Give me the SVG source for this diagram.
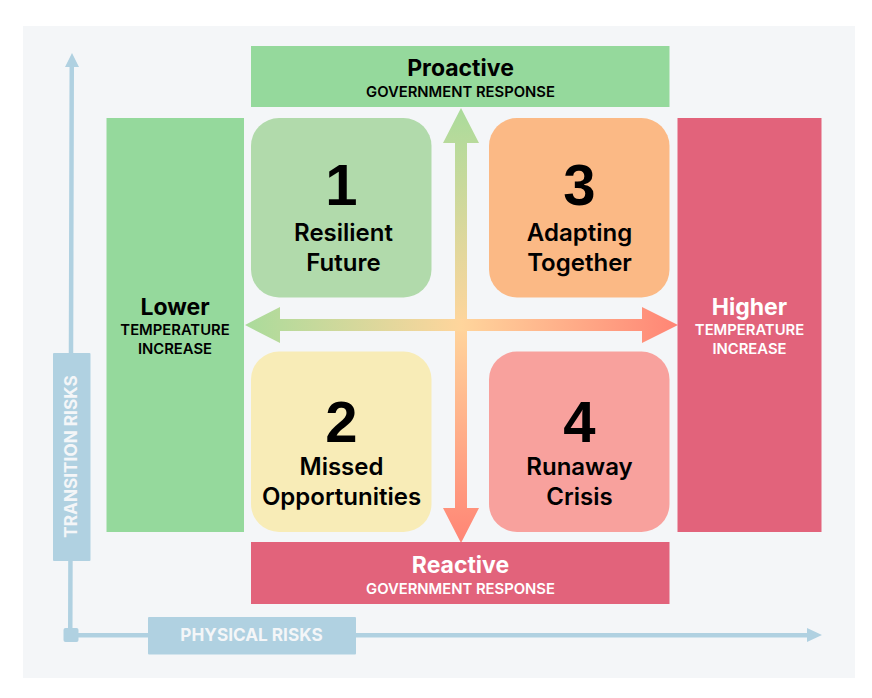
<svg xmlns="http://www.w3.org/2000/svg" width="872" height="698" viewBox="0 0 872 698">
<defs>
<style>
text{font-family:"Inter","Liberation Sans",sans-serif;text-anchor:middle;fill:#000}
.t{font-size:23px;font-weight:700}
.s{font-size:14.800px;font-weight:600}
.q{font-size:24px;font-weight:600}
.n{font-family:"Liberation Sans",Arial,sans-serif;font-size:58px;font-weight:700}
.w{fill:#fff}
.a{font-size:17.200px;font-weight:700;fill:#f4f6f8}
.g{fill:#95d99c}.r{fill:#e2637b}.b{fill:#b0d1e1}
</style>
<linearGradient id="hg" gradientUnits="userSpaceOnUse" x1="245" y1="0" x2="678" y2="0">
<stop offset="0" stop-color="#aadb9b"/><stop offset="0.5" stop-color="#ffd59c"/><stop offset="1" stop-color="#ff8575"/>
</linearGradient>
<linearGradient id="vg" gradientUnits="userSpaceOnUse" x1="0" y1="108" x2="0" y2="543">
<stop offset="0" stop-color="#aadb9b"/><stop offset="0.5" stop-color="#ffd59c"/><stop offset="1" stop-color="#ff8575"/>
</linearGradient>
</defs>
<rect x="23" y="26" width="832" height="652" fill="#f4f6f8"/>
<g id="connectors">
<path class="b" d="M68 635L69.500 67H65L72 53L79 67H74L72.500 633H807V628L822 635L807 642V637.500H68Z"/>
<path fill="url(#vg)" d="M461 108L479 143H467V508H479L461 543L443 508H455V143H443Z"/>
<path fill="url(#hg)" d="M245 325L280 307V319H642V307L678 325L642 343V331H280V343Z"/>
<rect class="b" x="63.500" y="628" width="15" height="14" rx="2"/>
</g>
<g id="axis-transition">
<rect class="b" x="53" y="353" width="37.500" height="208" rx="1"/>
<text class="a" transform="translate(77 456.500) rotate(-90)">TRANSITION RISKS</text>
</g>
<g id="axis-physical">
<rect class="b" x="148" y="617" width="208" height="37.500" rx="1"/>
<text class="a" x="251.500" y="640.500">PHYSICAL RISKS</text>
</g>
<g id="proactive">
<rect class="g" x="251" y="46" width="418.500" height="61"/>
<text class="t" x="460.500" y="75.500">Proactive</text>
<text class="s" x="460.500" y="96.500">GOVERNMENT RESPONSE</text>
</g>
<g id="reactive">
<rect class="r" x="251" y="542" width="418.500" height="62"/>
<text class="t w" x="460.500" y="572.500">Reactive</text>
<text class="s w" x="460.500" y="593.500">GOVERNMENT RESPONSE</text>
</g>
<g id="lower">
<rect class="g" x="106.500" y="118" width="137.500" height="414"/>
<text class="t" x="175" y="314.500">Lower</text>
<text class="s" x="175" y="335">TEMPERATURE</text>
<text class="s" x="175" y="354">INCREASE</text>
</g>
<g id="higher">
<rect class="r" x="677.500" y="118" width="144" height="414"/>
<text class="t w" x="749.500" y="314.500">Higher</text>
<text class="s w" x="749.500" y="335">TEMPERATURE</text>
<text class="s w" x="749.500" y="354">INCREASE</text>
</g>
<g id="q1">
<rect x="251" y="118" width="180.500" height="179.500" rx="28" fill="#b1daab"/>
<text class="n" x="341.500" y="205">1</text>
<text class="q" x="343.500" y="240.500">Resilient</text>
<text class="q" x="343.500" y="270.500">Future</text>
</g>
<g id="q3">
<rect x="489" y="118" width="180.500" height="179.500" rx="28" fill="#fbb985"/>
<text class="n" x="579.500" y="205">3</text>
<text class="q" x="579.500" y="240.500">Adapting</text>
<text class="q" x="579.500" y="270.500">Together</text>
</g>
<g id="q2">
<rect x="251" y="351.500" width="180.500" height="180.500" rx="28" fill="#f8ecb7"/>
<text class="n" x="341.500" y="441.500">2</text>
<text class="q" x="341.500" y="474.500">Missed</text>
<text class="q" x="341.500" y="504.500">Opportunities</text>
</g>
<g id="q4">
<rect x="489" y="351.500" width="180.500" height="180.500" rx="28" fill="#f8a19d"/>
<text class="n" x="579.500" y="441.500">4</text>
<text class="q" x="579.500" y="474.500">Runaway</text>
<text class="q" x="579.500" y="504.500">Crisis</text>
</g>
</svg>
